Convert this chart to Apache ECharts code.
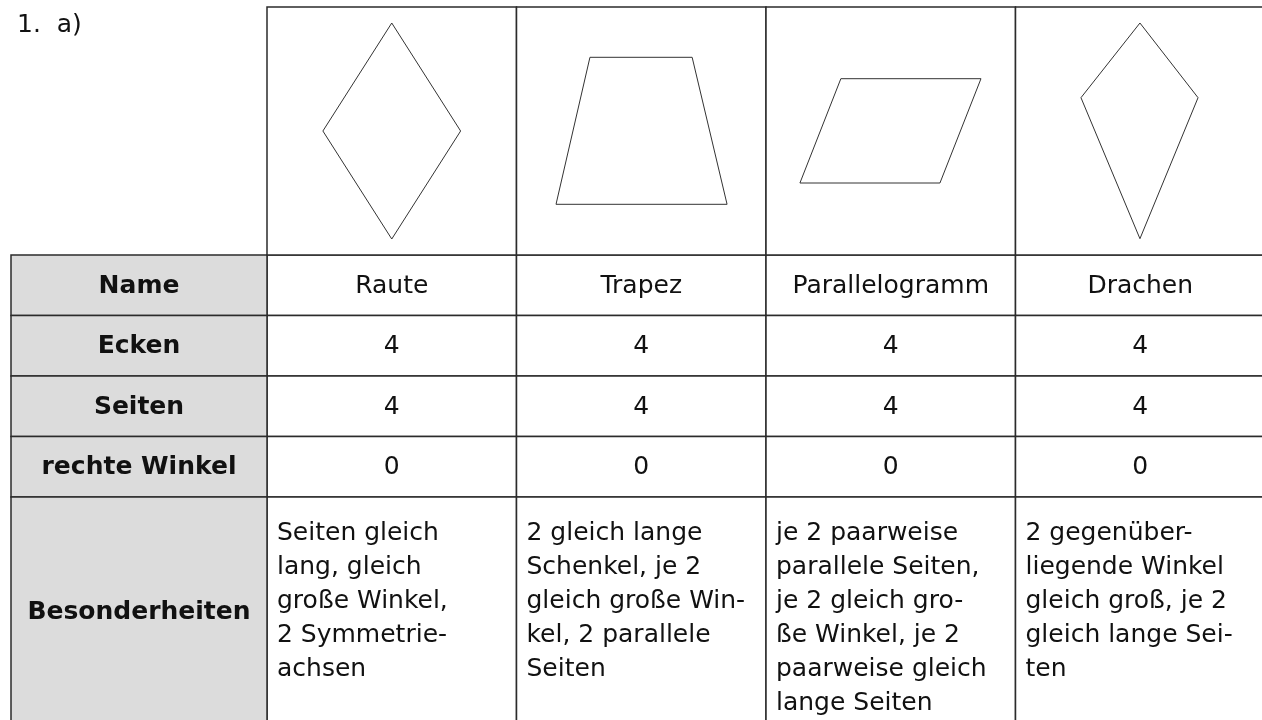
<!DOCTYPE html>
<html>
<head>
<meta charset="utf-8">
<script src="https://cdn.jsdelivr.net/npm/echarts@6/dist/echarts.min.js"></script>
<style>
html,body{margin:0;padding:0;background:#fff;}
#chart{width:1262px;height:720px;}
</style>
</head>
<body>
<div id="chart"></div>
<script>
// ---- data ----
const titleText = '1.  a)';
const rowLabels = ['Name', 'Ecken', 'Seiten', 'rechte Winkel', 'Besonderheiten'];
const shapeNames = ['Raute', 'Trapez', 'Parallelogramm', 'Drachen'];
const ecken = [4, 4, 4, 4];
const seiten = [4, 4, 4, 4];
const rechteWinkel = [0, 0, 0, 0];
const besonderheiten = [
  'Seiten gleich\nlang, gleich\ngroße Winkel,\n2 Symmetrie-\nachsen',
  '2 gleich lange\nSchenkel, je 2\ngleich große Win-\nkel, 2 parallele\nSeiten',
  'je 2 paarweise\nparallele Seiten,\nje 2 gleich gro-\nße Winkel, je 2\npaarweise gleich\nlange Seiten',
  '2 gegenüber-\nliegende Winkel\ngleich groß, je 2\ngleich lange Sei-\nten'
];
// shape vertices (image row units: x 0..1000 across 4 columns, y 0..248 from top)
const rauteShape = [[125, 16], [194, 124], [125, 232], [56, 124]];
const trapezShape = [[323.6, 50.3], [426, 50.3], [461, 197.3], [289.6, 197.3]];
const parallelogrammShape = [[575, 71.7], [715.4, 71.7], [674.3, 176], [534, 176]];
const drachenShape = [[874.7, 16], [932.9, 90.7], [874.7, 231.7], [815.6, 90.7]];

// ---- build ----
const FONT = '"DejaVu Sans", sans-serif';
const BORDER = '#2b2b2b';
const HEAD_FILL = '#dcdcdc';
const LAST_SPAN = 3.8;

const bodyRows = [shapeNames, ecken, seiten, rechteWinkel, besonderheiten];
const bodyData = [];
const bodyText = [];
bodyRows.forEach((row, r) => row.forEach((v, c) => { bodyData.push([c, r]); bodyText.push(String(v)); }));
const labelData = rowLabels.map((_, r) => [0, r]);
const imageData = shapeNames.map((_, c) => [c, 0]);

function cellRect(api, c, r, span) {
  const p0 = api.coord([c, r]);
  const p1 = api.coord([c + 1, r + span]);
  return { x: p0[0], y: p0[1], width: p1[0] - p0[0], height: p1[1] - p0[1] };
}

function renderBody(params, api) {
  const c = api.value(0), r = api.value(1);
  const rect = cellRect(api, c, r, r === 4 ? LAST_SPAN : 1);
  const txt = bodyText[params.dataIndex];
  const last = r === 4;
  return {
    type: 'group',
    children: [
      { type: 'rect', shape: rect, style: { fill: '#fff', stroke: BORDER, lineWidth: 1.5 } },
      {
        type: 'text',
        x: last ? rect.x + 10 : rect.x + rect.width / 2,
        y: last ? rect.y + 19 : rect.y + rect.height / 2 + 1,
        style: {
          text: txt, fontSize: 25, fontFamily: FONT, fill: '#111',
          align: last ? 'left' : 'center', verticalAlign: last ? 'top' : 'middle',
          lineHeight: 34
        }
      }
    ]
  };
}

function renderLabel(params, api) {
  const r = api.value(1);
  const rect = cellRect(api, 0, r, r === 4 ? LAST_SPAN : 1);
  return {
    type: 'group',
    children: [
      { type: 'rect', shape: rect, style: { fill: HEAD_FILL, stroke: BORDER, lineWidth: 1.5 } },
      {
        type: 'text', x: rect.x + rect.width / 2, y: rect.y + rect.height / 2 + 1,
        style: {
          text: rowLabels[params.dataIndex], fontSize: 25, fontWeight: 'bold',
          fontFamily: FONT, fill: '#111', align: 'center', verticalAlign: 'middle'
        }
      }
    ]
  };
}

function renderImageCell(params, api) {
  const c = api.value(0);
  const p0 = api.coord([c * 250, 0]);
  const p1 = api.coord([(c + 1) * 250, 248]);
  return {
    type: 'rect',
    shape: { x: p0[0], y: p0[1], width: p1[0] - p0[0], height: p1[1] - p0[1] },
    style: { fill: '#fff', stroke: BORDER, lineWidth: 1.5 }
  };
}

function closed(pts) { return pts.concat([pts[0]]); }
function shapeSeries(name, pts) {
  return {
    type: 'line', name: name, xAxisIndex: 2, yAxisIndex: 2, data: closed(pts),
    symbol: 'none', silent: true, z: 5,
    lineStyle: { color: '#333', width: 1 }, animation: false
  };
}

const hidden = { show: false };
const gridBase = { outerBoundsMode: 'none', containLabel: false };
const option = {
  animation: false,
  backgroundColor: '#fff',
  title: {
    text: titleText, left: 12, top: 8,
    textStyle: { fontSize: 25, fontWeight: 'normal', fontFamily: FONT, color: '#111' }
  },
  grid: [
    Object.assign({ left: 267, top: 255, width: 998, height: 60.5 * (4 + LAST_SPAN) }, gridBase),
    Object.assign({ left: 11, top: 255, width: 256, height: 60.5 * (4 + LAST_SPAN) }, gridBase),
    Object.assign({ left: 267, top: 7, width: 998, height: 248 }, gridBase)
  ],
  xAxis: [
    Object.assign({ type: 'value', gridIndex: 0, min: 0, max: 4 }, hidden),
    Object.assign({ type: 'value', gridIndex: 1, min: 0, max: 1 }, hidden),
    Object.assign({ type: 'value', gridIndex: 2, min: 0, max: 1000 }, hidden)
  ],
  yAxis: [
    Object.assign({ type: 'value', gridIndex: 0, min: 0, max: 4 + LAST_SPAN, inverse: true }, hidden),
    Object.assign({ type: 'value', gridIndex: 1, min: 0, max: 4 + LAST_SPAN, inverse: true }, hidden),
    Object.assign({ type: 'value', gridIndex: 2, min: 0, max: 248, inverse: true }, hidden)
  ],
  series: [
    { type: 'custom', xAxisIndex: 0, yAxisIndex: 0, data: bodyData, renderItem: renderBody, encode: { x: 0, y: 1 }, clip: false, silent: true },
    { type: 'custom', xAxisIndex: 1, yAxisIndex: 1, data: labelData, renderItem: renderLabel, encode: { x: 0, y: 1 }, clip: false, silent: true },
    { type: 'custom', xAxisIndex: 2, yAxisIndex: 2, data: imageData, renderItem: renderImageCell, encode: { x: 0, y: 1 }, clip: false, silent: true },
    shapeSeries('Raute', rauteShape),
    shapeSeries('Trapez', trapezShape),
    shapeSeries('Parallelogramm', parallelogrammShape),
    shapeSeries('Drachen', drachenShape)
  ]
};
const chart = echarts.init(document.getElementById('chart'), null, { renderer: 'canvas' });
chart.setOption(option);
</script>
</body>
</html>
